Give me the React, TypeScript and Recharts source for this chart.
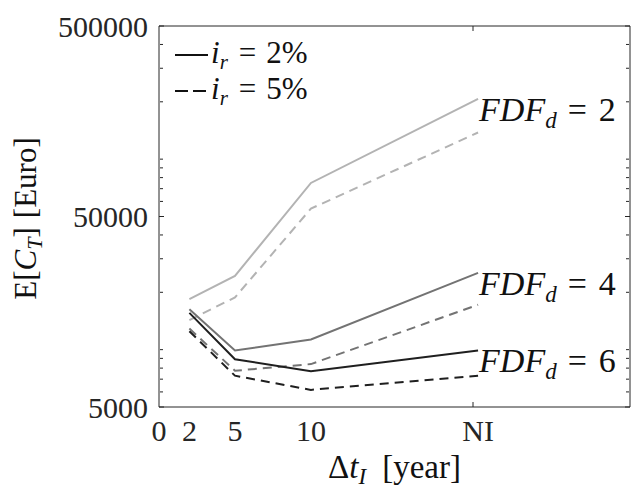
import { LineChart, Line, XAxis, YAxis, Legend, Label, LabelList } from 'recharts';

// inspection interval in years; "NI" (no inspection) is drawn at x = 21
const intervals = [2, 5, 10, 21];
const xTicks = [0, 2, 5, 10, 21];
const xTickText: Record<number, string> = { 0: '0', 2: '2', 5: '5', 10: '10', 21: 'NI' };
const yMajor = [5000, 50000, 500000];
const yMinor = [6000, 7000, 8000, 9000, 10000, 20000, 30000, 40000, 60000, 70000, 80000, 90000, 100000, 200000, 300000, 400000];

// expected total cost E[C_T] in Euro
const fdf2Rate2 = [18400, 24400, 75000, 207000];
const fdf2Rate5 = [14300, 18800, 55000, 138000];
const fdf4Rate2 = [16300, 9900, 11300, 25300];
const fdf4Rate5 = [12900, 7750, 8400, 17200];
const fdf6Rate2 = [15600, 8900, 7700, 9900];
const fdf6Rate5 = [12500, 7300, 6150, 7300];

const data = intervals.map((t, i) => ({
  t,
  f2s: fdf2Rate2[i],
  f2d: fdf2Rate5[i],
  f4s: fdf4Rate2[i],
  f4d: fdf4Rate5[i],
  f6s: fdf6Rate2[i],
  f6d: fdf6Rate5[i],
}));

const series = [
  { key: 'f2s', color: '#b3b3b3', dashed: false, fdf: '2' },
  { key: 'f2d', color: '#b3b3b3', dashed: true, fdf: '' },
  { key: 'f4s', color: '#737373', dashed: false, fdf: '4' },
  { key: 'f4d', color: '#737373', dashed: true, fdf: '' },
  { key: 'f6s', color: '#1f1f1f', dashed: false, fdf: '6' },
  { key: 'f6d', color: '#1f1f1f', dashed: true, fdf: '' },
];

const legendItems = [
  { rate: '2%', dash: undefined },
  { rate: '5%', dash: '13 5' },
];

const FONT = '"Liberation Serif", "DejaVu Serif", serif';
const AXIS = '#262626';
const tickStyle = { fontFamily: FONT, fontSize: 30, fill: AXIS };
const logDomain = [5000, 500000];
const noText = () => '';
const tickStroke = { stroke: AXIS, strokeWidth: 1 };

function fdfLabel(fdf: string) {
  return (props: any) => {
    const { x, y, index } = props;
    if (index !== intervals.length - 1) return null;
    return (
      <text x={x + 1} y={y + 22} fontFamily={FONT} fontSize={34} fill="#111">
        <tspan fontStyle="italic">FDF</tspan>
        <tspan fontStyle="italic" fontSize={23} dy={7}>d</tspan>
        <tspan dx={11} dy={-7}>=</tspan>
        <tspan dx={12}>{fdf}</tspan>
      </text>
    );
  };
}

function LegendBox() {
  return (
    <div style={{ position: 'absolute', left: 165, top: 30 }}>
      <svg width={170} height={80}>
        {legendItems.map((it, i) => (
          <g key={i} transform={`translate(0, ${i * 36})`}>
            <line x1={10} x2={43} y1={25} y2={25} stroke="#111" strokeWidth={2} strokeDasharray={it.dash} />
            <text x={46} y={33} fontFamily={FONT} fontSize={31} fill="#111">
              <tspan fontStyle="italic">i</tspan>
              <tspan fontStyle="italic" fontSize={21} dy={6}>r</tspan>
              <tspan dx={11} dy={-6}>=</tspan>
              <tspan dx={10}>{it.rate}</tspan>
            </text>
          </g>
        ))}
      </svg>
    </div>
  );
}

export default function App() {
  return (
    <div style={{ position: 'absolute', left: 0, top: 0, width: 631, height: 498, background: '#fff' }}>
      <LineChart width={631} height={498} data={data} margin={{ top: 26, right: 1, left: 59, bottom: 41 }}>
        <XAxis
          dataKey="t"
          type="number"
          domain={[0, 31]}
          ticks={xTicks}
          tickFormatter={(v: number) => xTickText[v] ?? ''}
          tick={tickStyle}
          tickLine={false}
          tickSize={0}
          tickMargin={13}
          height={50}
          axisLine={{ stroke: AXIS }}
          allowDataOverflow
        >
          <Label
            content={(p: any) => {
              const vb = p.viewBox;
              return (
                <text x={vb.x + vb.width / 2} y={478} textAnchor="middle" fontFamily={FONT} fontSize={33} fill="#111">
                  <tspan>Δ</tspan>
                  <tspan fontStyle="italic">t</tspan>
                  <tspan fontStyle="italic" fontSize={23} dy={6}>I</tspan>
                  <tspan dx={16} dy={-6}>[year]</tspan>
                </text>
              );
            }}
          />
        </XAxis>
        <XAxis xAxisId="bIn" orientation="bottom" mirror type="number" domain={[0, 31]} ticks={[2, 5, 10, 21]} tickFormatter={noText} tickSize={5} tickMargin={0} height={1} axisLine={false} tickLine={tickStroke} allowDataOverflow />
        <XAxis xAxisId="top" orientation="top" mirror type="number" domain={[0, 31]} ticks={[2, 5, 10, 21]} tickFormatter={noText} tickSize={5} tickMargin={0} height={1} axisLine={{ stroke: AXIS }} tickLine={tickStroke} allowDataOverflow />
        <YAxis
          scale="log"
          type="number"
          domain={logDomain}
          ticks={yMajor}
          tick={tickStyle}
          tickLine={false}
          tickSize={0}
          tickMargin={11}
          width={100}
          axisLine={{ stroke: AXIS }}
          allowDataOverflow
        >
          <Label
            content={(p: any) => {
              const vb = p.viewBox;
              const cx = 36;
              const cy = vb.y + vb.height / 2 + 2;
              return (
                <text x={cx} y={cy} transform={`rotate(-90, ${cx}, ${cy})`} textAnchor="middle" fontFamily={FONT} fontSize={31} fill="#111">
                  <tspan>E[</tspan>
                  <tspan fontStyle="italic">C</tspan>
                  <tspan fontStyle="italic" fontSize={22} dy={6}>T</tspan>
                  <tspan dy={-6}>]</tspan>
                  <tspan dx={9}>[Euro]</tspan>
                </text>
              );
            }}
          />
        </YAxis>
        <YAxis yAxisId="lMaj" orientation="left" mirror scale="log" type="number" domain={logDomain} ticks={yMajor} tickFormatter={noText} tickSize={5} tickMargin={0} width={1} axisLine={false} tickLine={tickStroke} allowDataOverflow />
        <YAxis yAxisId="lMin" orientation="left" mirror scale="log" type="number" domain={logDomain} ticks={yMinor} tickFormatter={noText} tickSize={3} tickMargin={0} width={1} axisLine={false} tickLine={tickStroke} allowDataOverflow />
        <YAxis yAxisId="rMaj" orientation="right" mirror scale="log" type="number" domain={logDomain} ticks={yMajor} tickFormatter={noText} tickSize={5} tickMargin={0} width={1} axisLine={{ stroke: AXIS }} tickLine={tickStroke} allowDataOverflow />
        <YAxis yAxisId="rMin" orientation="right" mirror scale="log" type="number" domain={logDomain} ticks={yMinor} tickFormatter={noText} tickSize={3} tickMargin={0} width={1} axisLine={false} tickLine={tickStroke} allowDataOverflow />
        {series.map((s) => (
          <Line
            key={s.key}
            dataKey={s.key}
            type="linear"
            stroke={s.color}
            strokeWidth={2}
            strokeDasharray={s.dashed ? '9 6' : undefined}
            dot={false}
            activeDot={false}
            isAnimationActive={false}
          >
            {s.fdf ? <LabelList dataKey={s.key} content={fdfLabel(s.fdf)} /> : null}
          </Line>
        ))}
        <Legend content={() => <LegendBox />} wrapperStyle={{ left: 0, top: 0, width: 0, height: 0 }} />
      </LineChart>
    </div>
  );
}
